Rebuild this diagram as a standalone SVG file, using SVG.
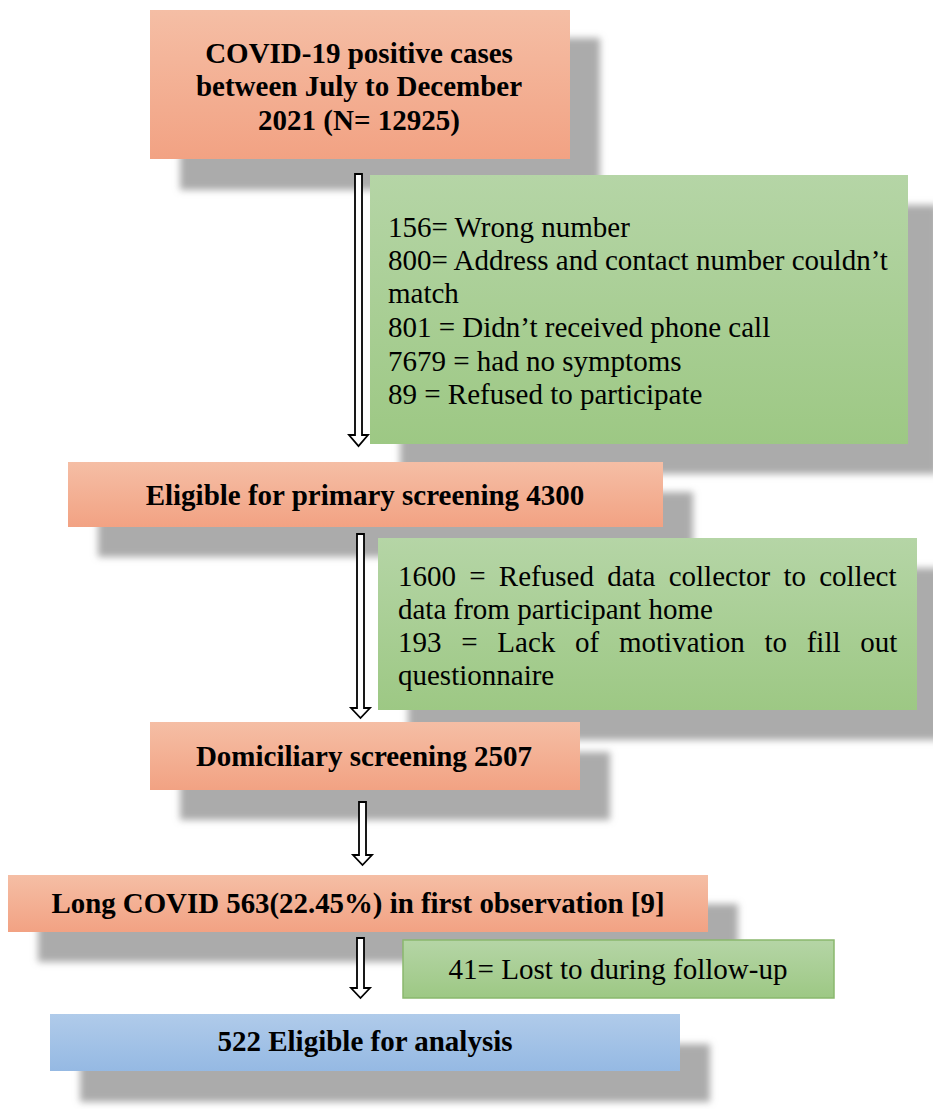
<svg xmlns="http://www.w3.org/2000/svg" width="933" height="1109" viewBox="0 0 933 1109">
<defs>
<linearGradient id="gOr" x1="0" y1="0" x2="0" y2="1"><stop offset="0" stop-color="#f5bea5"/><stop offset="1" stop-color="#f2a283"/></linearGradient>
<linearGradient id="gGr" x1="0" y1="0" x2="0" y2="1"><stop offset="0" stop-color="#b5d5a6"/><stop offset="1" stop-color="#9dc884"/></linearGradient>
<linearGradient id="gBl" x1="0" y1="0" x2="0" y2="1"><stop offset="0" stop-color="#b0cbea"/><stop offset="1" stop-color="#95b9e3"/></linearGradient>
<filter id="blur" x="-10%" y="-20%" width="120%" height="140%"><feGaussianBlur stdDeviation="3.5"/></filter>
<style>
.sh{fill:#ababab;filter:url(#blur)}
.or{fill:url(#gOr)}
.gr{fill:url(#gGr)}
.bl{fill:url(#gBl)}
.arr{fill:#fff;stroke:#000;stroke-width:1.8}
</style>
</defs>
<rect width="933" height="1109" fill="#fff"/>
<g id="shadows">
<rect class="sh" x="180" y="38" width="420" height="152"/>
<rect class="sh" x="400" y="205" width="538" height="269"/>
<rect class="sh" x="98" y="492" width="595" height="65"/>
<rect class="sh" x="408" y="568" width="539" height="172"/>
<rect class="sh" x="180" y="752" width="430" height="68"/>
<rect class="sh" x="38" y="904" width="700" height="58"/>
<rect class="sh" x="80" y="1044" width="630" height="58"/>
</g>
<g id="connectors">
<path class="arr" d="M355,174 H362 V435 H368 L358.5,446 L349,435 H355 Z"/>
<path class="arr" d="M357,534 H364 V708 H370 L360.5,718 L351,708 H357 Z"/>
<path class="arr" d="M359,802 H366 V855 H372 L362.5,865 L353,855 H359 Z"/>
<path class="arr" d="M357,938 H364 V988 H370 L360.5,998 L351,988 H357 Z"/>
</g>
<g id="n1">
<rect class="or" x="150" y="10" width="420" height="149"/>
<text font-family="Liberation Serif" font-weight="bold" text-anchor="middle" font-size="29" x="359" y="63">COVID-19 positive cases</text>
<text font-family="Liberation Serif" font-weight="bold" text-anchor="middle" font-size="29" x="359" y="96">between July to December</text>
<text font-family="Liberation Serif" font-weight="bold" text-anchor="middle" font-size="29" x="359" y="130">2021 (N= 12925)</text>
</g>
<g id="n2">
<rect class="gr" x="370" y="175" width="538" height="269"/>
<text font-family="Liberation Serif" font-size="29" x="388" y="237">156= Wrong number</text>
<text font-family="Liberation Serif" font-size="29" x="388" y="270">800= Address and contact number couldn’t</text>
<text font-family="Liberation Serif" font-size="29" x="388" y="303">match</text>
<text font-family="Liberation Serif" font-size="29" x="388" y="337">801 = Didn’t received phone call</text>
<text font-family="Liberation Serif" font-size="29" x="388" y="371">7679 = had no symptoms</text>
<text font-family="Liberation Serif" font-size="29" x="388" y="404">89 = Refused to participate</text>
</g>
<g id="n3">
<rect class="or" x="68" y="462" width="595" height="65"/>
<text font-family="Liberation Serif" font-weight="bold" text-anchor="middle" font-size="29" x="365" y="505">Eligible for primary screening 4300</text>
</g>
<g id="n4">
<rect class="gr" x="378" y="538" width="539" height="172"/>
<text font-family="Liberation Serif" font-size="29" x="398" y="586" word-spacing="6">1600 = Refused data collector to collect</text>
<text font-family="Liberation Serif" font-size="29" x="398" y="619">data from participant home</text>
<text font-family="Liberation Serif" font-size="29" x="398" y="652" word-spacing="12.5">193 = Lack of motivation to fill out</text>
<text font-family="Liberation Serif" font-size="29" x="398" y="685">questionnaire</text>
</g>
<g id="n5">
<rect class="or" x="150" y="722" width="430" height="68"/>
<text font-family="Liberation Serif" font-weight="bold" text-anchor="middle" font-size="29" x="364" y="766">Domiciliary screening 2507</text>
</g>
<g id="n6">
<rect class="or" x="8" y="875" width="700" height="57"/>
<text font-family="Liberation Serif" font-weight="bold" text-anchor="middle" font-size="29" x="358" y="913" textLength="613" lengthAdjust="spacingAndGlyphs">Long COVID 563(22.45%) in first observation [9]</text>
</g>
<g id="n7">
<rect x="403" y="940" width="431" height="58" fill="url(#gGr)" stroke="#8ab86e" stroke-width="1.5"/>
<text font-family="Liberation Serif" text-anchor="middle" font-size="30" x="618" y="979" textLength="339" lengthAdjust="spacingAndGlyphs">41= Lost to during follow-up</text>
</g>
<g id="n8">
<rect class="bl" x="50" y="1014" width="630" height="57"/>
<text font-family="Liberation Serif" font-weight="bold" text-anchor="middle" font-size="29" x="365" y="1051" textLength="295" lengthAdjust="spacingAndGlyphs">522 Eligible for analysis</text>
</g>
</svg>
